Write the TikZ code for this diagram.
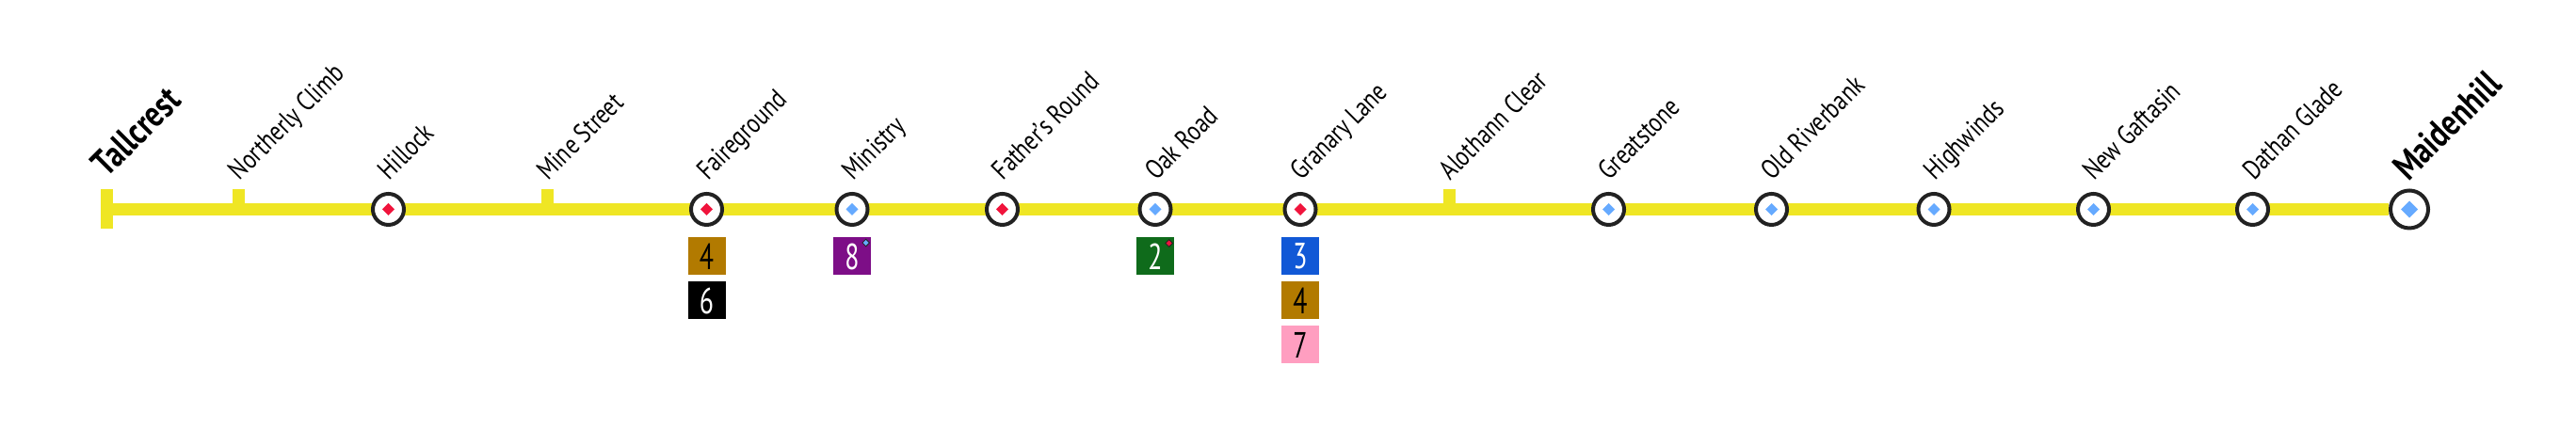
\documentclass[tikz,border=0pt]{standalone}
\usepackage{fontspec}
\setmainfont[FakeStretch=0.8]{PT Sans}
\newfontfamily\badgefont[FakeStretch=0.72]{PT Sans}
\usetikzlibrary{shapes.geometric}
\definecolor{lineyellow}{HTML}{EFE624}
\definecolor{ringgrey}{HTML}{222222}
\definecolor{stepred}{HTML}{F0143C}
\definecolor{stepblue}{HTML}{66AAFF}
\definecolor{badgebrown}{HTML}{B27A00}
\definecolor{badgepurple}{HTML}{7D0E87}
\definecolor{badgegreen}{HTML}{0F6B1B}
\definecolor{badgeblue}{HTML}{1158D6}
\definecolor{badgepink}{HTML}{FF9EC0}
\tikzset{
	stop/.style={circle,draw=ringgrey,fill=white,line width=0.04cm,minimum size=0.33cm,inner sep=0pt},
	endstop/.style={circle,draw=ringgrey,fill=white,line width=0.04cm,minimum size=0.40cm,inner sep=0pt},
	gem/.style={diamond,fill=#1,minimum size=0.13cm,inner sep=0pt,outer sep=0pt},
	biggem/.style={diamond,fill=#1,minimum size=0.18cm,inner sep=0pt,outer sep=0pt},
	smallgem/.style={diamond,draw=ringgrey,line width=0.008cm,fill=#1,minimum size=0.08cm,inner sep=0pt},
	stoptick/.style={fill=lineyellow,minimum width=0.13cm,minimum height=0.21cm,inner sep=0pt,anchor=south},
	endtick/.style={fill=lineyellow,minimum width=0.13cm,minimum height=0.42cm,inner sep=0pt},
	stoplabel/.style={rotate=45,anchor=base west,inner sep=0pt,font=\fontsize{8.3pt}{9pt}\selectfont},
	endlabel/.style={rotate=45,anchor=base west,inner sep=0pt,font=\fontsize{11.2pt}{12pt}\selectfont\bfseries},
	badge/.style={minimum size=0.4cm,inner sep=0pt,font=\fontsize{11pt}{12pt}\badgefont},
}
\begin{document}
\begin{tikzpicture}
	\useasboundingbox (0,0) rectangle (27.36,4.57);

	\coordinate (tallcrest) at (1.135,2.345);
	\node[endstop] (maidenhill) at (25.59,2.345) {};
	\draw[lineyellow,line width=0.13cm] (tallcrest) -- (maidenhill);

	\node[endtick] (tallcresttick) at (tallcrest) {};
	\node[stoptick] (northerly) at (2.535,2.345) {};
	\node[stoptick] (mine) at (5.81,2.345) {};
	\node[stoptick] (alothann) at (15.39,2.345) {};

	\node[stop] (hillock) at (4.125,2.345) {};
	\node[stop] (faireground) at (7.505,2.345) {};
	\node[stop] (ministry) at (9.05,2.345) {};
	\node[stop] (fathers) at (10.645,2.345) {};
	\node[stop] (oak) at (12.27,2.345) {};
	\node[stop] (granary) at (13.81,2.345) {};
	\node[stop] (greatstone) at (17.085,2.345) {};
	\node[stop] (riverbank) at (18.815,2.345) {};
	\node[stop] (highwinds) at (20.54,2.345) {};
	\node[stop] (gaftasin) at (22.235,2.345) {};
	\node[stop] (dathan) at (23.925,2.345) {};

	\node[gem=stepred] (hillockgem) at (hillock) {};
	\node[gem=stepred] (fairegroundgem) at (faireground) {};
	\node[gem=stepblue] (ministrygem) at (ministry) {};
	\node[gem=stepred] (fathersgem) at (fathers) {};
	\node[gem=stepblue] (oakgem) at (oak) {};
	\node[gem=stepred] (granarygem) at (granary) {};
	\node[gem=stepblue] (greatstonegem) at (greatstone) {};
	\node[gem=stepblue] (riverbankgem) at (riverbank) {};
	\node[gem=stepblue] (highwindsgem) at (highwinds) {};
	\node[gem=stepblue] (gaftasingem) at (gaftasin) {};
	\node[gem=stepblue] (dathangem) at (dathan) {};
	\node[biggem=stepblue] (maidenhillgem) at (maidenhill) {};

	\node[endlabel] (tallcrestname) at (1.135,2.67) {Tallcrest};
	\node[stoplabel] (northerlyname) at (2.545,2.64) {Northerly Climb};
	\node[stoplabel] (hillockname) at (4.13,2.64) {Hillock};
	\node[stoplabel] (minename) at (5.82,2.64) {Mine Street};
	\node[stoplabel] (fairegroundname) at (7.515,2.64) {Faireground};
	\node[stoplabel] (ministryname) at (9.06,2.64) {Ministry};
	\node[stoplabel] (fathersname) at (10.65,2.64) {Father's Round};
	\node[stoplabel] (oakname) at (12.28,2.64) {Oak Road};
	\node[stoplabel] (granaryname) at (13.82,2.64) {Granary Lane};
	\node[stoplabel] (alothannname) at (15.4,2.64) {Alothann Clear};
	\node[stoplabel] (greatstonename) at (17.09,2.64) {Greatstone};
	\node[stoplabel] (riverbankname) at (18.82,2.64) {Old Riverbank};
	\node[stoplabel] (highwindsname) at (20.55,2.64) {Highwinds};
	\node[stoplabel] (gaftasinname) at (22.24,2.64) {New Gaftasin};
	\node[stoplabel] (dathanname) at (23.935,2.64) {Dathan Glade};
	\node[endlabel] (maidenhillname) at (25.575,2.63) {Maidenhill};

	\node[badge,fill=badgebrown,text=black] (faire4) at (7.505,1.845) {4};
	\node[badge,fill=black,text=white] (faire6) at (7.505,1.375) {6};
	\node[badge,fill=badgepurple,text=white] (ministry8) at (9.05,1.845) {8};
	\node[smallgem=stepblue] (ministry8gem) at (9.197,1.99) {};
	\node[badge,fill=badgegreen,text=white] (oak2) at (12.27,1.845) {2};
	\node[smallgem=stepred] (oak2gem) at (12.417,1.985) {};
	\node[badge,fill=badgeblue,text=white] (granary3) at (13.81,1.845) {3};
	\node[badge,fill=badgebrown,text=black] (granary4) at (13.81,1.375) {4};
	\node[badge,fill=badgepink,text=black] (granary7) at (13.81,0.905) {7};
\end{tikzpicture}
\end{document}
